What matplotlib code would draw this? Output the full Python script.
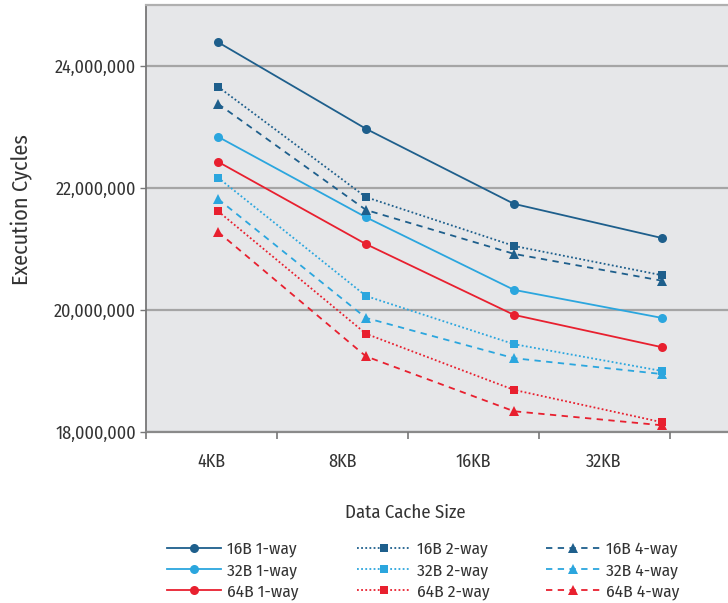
import matplotlib
matplotlib.use("Agg")
import matplotlib.pyplot as plt
from matplotlib.ticker import FuncFormatter

plt.rcParams['font.family'] = ['Fira Sans Condensed', 'Open Sans', 'DejaVu Sans']

categories = ["4KB", "8KB", "16KB", "32KB"]
series_names = ["16B 1-way", "32B 1-way", "64B 1-way",
                "16B 2-way", "32B 2-way", "64B 2-way",
                "16B 4-way", "32B 4-way", "64B 4-way"]
s16_1 = [24390000, 22970000, 21740000, 21180000]
s32_1 = [22840000, 21520000, 20330000, 19870000]
s64_1 = [22430000, 21080000, 19920000, 19390000]
s16_2 = [23660000, 21850000, 21050000, 20570000]
s32_2 = [22170000, 20230000, 19440000, 19000000]
s64_2 = [21620000, 19610000, 18690000, 18160000]
s16_4 = [23380000, 21640000, 20920000, 20480000]
s32_4 = [21820000, 19870000, 19210000, 18950000]
s64_4 = [21280000, 19240000, 18340000, 18110000]
series_values = [s16_1, s32_1, s64_1, s16_2, s32_2, s64_2, s16_4, s32_4, s64_4]
y_ticks = [18000000, 20000000, 22000000, 24000000]

dark = "#1e5f8c"
light = "#2ba6de"
red = "#e8202f"
colors = [dark, light, red] * 3
styles = ["-"] * 3 + [(0, (1, 1.3))] * 3 + [(0, (3.5, 3))] * 3
markers = ["o"] * 3 + ["s"] * 3 + ["^"] * 3
msizes = [6.5] * 3 + [5.8] * 3 + [6.5] * 3
text_color = "#333333"

W, H = 728, 603
fig = plt.figure(figsize=(W / 100, H / 100), dpi=100)
left_px, right_px, top_px, bot_px = 145.5, 728, 5, 432
pos = [left_px / W, (H - bot_px) / H, (right_px - left_px) / W, (bot_px - top_px) / H]

ax = fig.add_axes(pos)
ax.set_facecolor("#e6e7e9")
x = list(range(len(categories)))
handles = []
for vals, c, ls, m, ms, name in zip(series_values, colors, styles, markers, msizes, series_names):
    ln, = ax.plot(x, vals, color=c, linestyle=ls, lw=1.3, marker=m, markersize=ms,
                  markeredgewidth=0, label=name, zorder=3)
    handles.append(ln)

ax.set_xlim(-0.49, 3.446)
ax.set_ylim(18000000, 25000000)
ax.set_yticks(y_ticks)
ax.yaxis.set_major_formatter(FuncFormatter(lambda v, p: f"{int(v):,}"))
ax.tick_params(axis='y', direction='out', length=4, width=1, color="#777777",
               labelsize=13, labelcolor=text_color, pad=3)
ax.tick_params(axis='x', bottom=False, labelbottom=False)
ax.yaxis.grid(True, color="#a5a5a5", lw=1.6)
ax.set_axisbelow(True)
ax.spines["right"].set_visible(False)
ax.spines["top"].set_color("#b0b0b0")
ax.spines["top"].set_linewidth(1.6)
ax.spines["left"].set_color("#777777")
ax.spines["left"].set_linewidth(1.3)
ax.spines["bottom"].set_color("#8a8a8a")
ax.spines["bottom"].set_linewidth(1.6)
ax.set_ylabel("Execution Cycles", fontsize=16, color=text_color)
ax.yaxis.set_label_coords(-(left_px - 22) / (right_px - left_px), (bot_px - 210) / (bot_px - top_px))
ax.yaxis.label.set_va('center')

# category axis
ax2 = fig.add_axes(pos)
ax2.patch.set_visible(False)
for s in ax2.spines.values():
    s.set_visible(False)
ax2.set_xlim(0, (right_px - left_px) / 131.0)
ax2.set_yticks([])
ax2.set_xticks(range(5))
ax2.set_xticklabels([])
ax2.set_xticks([i + 0.5 for i in range(len(categories))], minor=True)
ax2.set_xticklabels(categories, minor=True)
ax2.tick_params(axis='x', which='major', direction='out', length=5, width=1.2, color="#777777")
ax2.tick_params(axis='x', which='minor', length=0, labelsize=13, labelcolor=text_color, pad=15)
ax2.set_xlabel("Data Cache Size", fontsize=13.5, color=text_color)
ax2.xaxis.set_label_coords((405 - left_px) / (right_px - left_px), -(513 - bot_px) / (bot_px - top_px))
ax2.xaxis.label.set_va('center')

col_x = [167, 357, 546]
for k in range(3):
    leg = fig.legend(handles=handles[3 * k:3 * k + 3], labels=series_names[3 * k:3 * k + 3],
                     loc="upper left", bbox_to_anchor=(col_x[k] / W, 1 - 541 / H),
                     frameon=False, fontsize=12.5, handlelength=3.1, handletextpad=0.35,
                     labelspacing=0.3, borderpad=0, borderaxespad=0)
    for t in leg.get_texts():
        t.set_color(text_color)

fig.savefig("out.png", dpi=100)
